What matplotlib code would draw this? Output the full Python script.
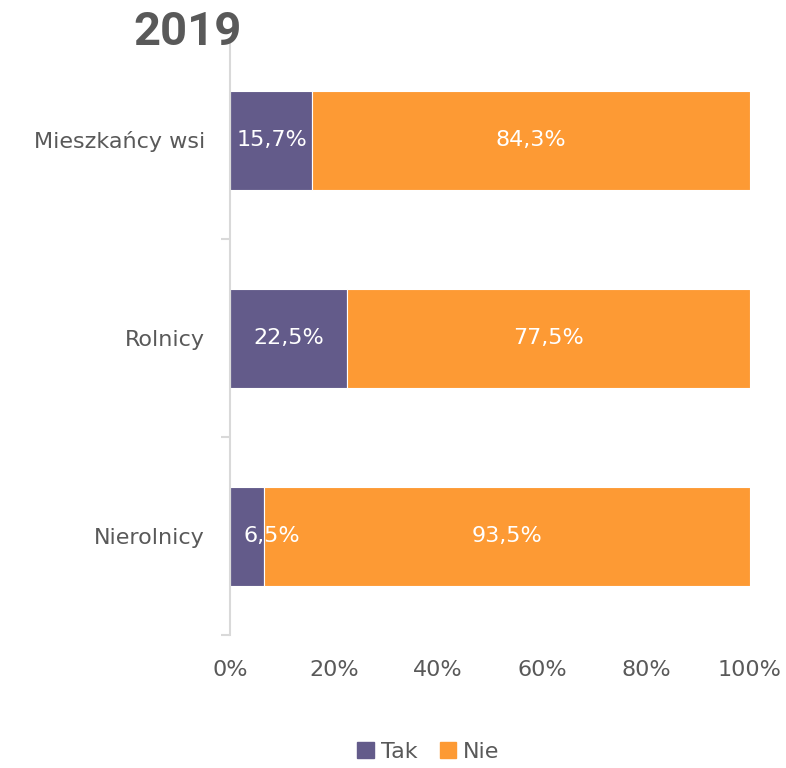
import numpy as np
import matplotlib.pyplot as plt
from matplotlib.patches import Patch

# ==== DATA ====
categories = ["Nierolnicy", "Rolnicy", "Mieszkańcy wsi"]
tak = [6.5, 22.5, 15.7]
nie = [93.5, 77.5, 84.3]
series_names = ["Tak", "Nie"]
title = "2019"

# ==== STYLE ====
tak_color = "#635b8a"
nie_color = "#fd9a34"
text_color = "#595959"
spine_color = "#d9d9d9"
fs = 16
plt.rcParams["font.family"] = ["DejaVu Sans"]

fig = plt.figure(figsize=(7.86, 7.68), dpi=100)
ax = fig.add_axes([230 / 786, 1 - 635 / 768, 520 / 786, 594 / 768])

y = np.arange(len(categories))
ax.barh(y, tak, height=0.5, color=tak_color, edgecolor="white", linewidth=0.8)
ax.barh(y, nie, left=tak, height=0.5, color=nie_color, edgecolor="white", linewidth=0.8)

# data labels
for i in range(len(categories)):
    x_tak = max(tak[i] / 2, 8.1)
    ax.text(x_tak, y[i], f"{tak[i]:.1f}%".replace(".", ","), color="white",
            ha="center", va="center", fontsize=fs)
    ax.text(tak[i] + nie[i] / 2, y[i], f"{nie[i]:.1f}%".replace(".", ","),
            color="white", ha="center", va="center", fontsize=fs)

ax.set_xlim(0, 100)
ax.set_ylim(-0.5, len(categories) - 0.5)
ax.set_xticks(np.arange(0, 101, 20))
ax.set_xticklabels([f"{v}%" for v in range(0, 101, 20)])
ax.set_yticks(y)
ax.set_yticklabels(categories)
ax.set_yticks(np.arange(-0.5, len(categories) - 0.5, 1), minor=True)

for s in ["top", "right", "bottom"]:
    ax.spines[s].set_visible(False)
ax.spines["left"].set_color(spine_color)
ax.spines["left"].set_linewidth(1.5)

ax.tick_params(axis="x", length=0, pad=18, labelsize=fs, labelcolor=text_color)
ax.tick_params(axis="y", which="major", length=0, pad=18, labelsize=fs,
               labelcolor=text_color)
ax.tick_params(axis="y", which="minor", length=6.5, width=1.5, color=spine_color)

fig.text(133 / 786, 1 - 32 / 768, title, fontsize=34, fontweight="bold",
         color=text_color, family="Roboto", ha="left", va="center")

handles = [Patch(color=tak_color), Patch(color=nie_color)]
fig.legend(handles, series_names, loc="center", bbox_to_anchor=(0.545, 0.021),
           ncol=2, frameon=False, fontsize=fs, labelcolor=text_color,
           handlelength=0.75, handleheight=0.75, handletextpad=0.3, columnspacing=1.0)

fig.savefig("out.png", dpi=100)
